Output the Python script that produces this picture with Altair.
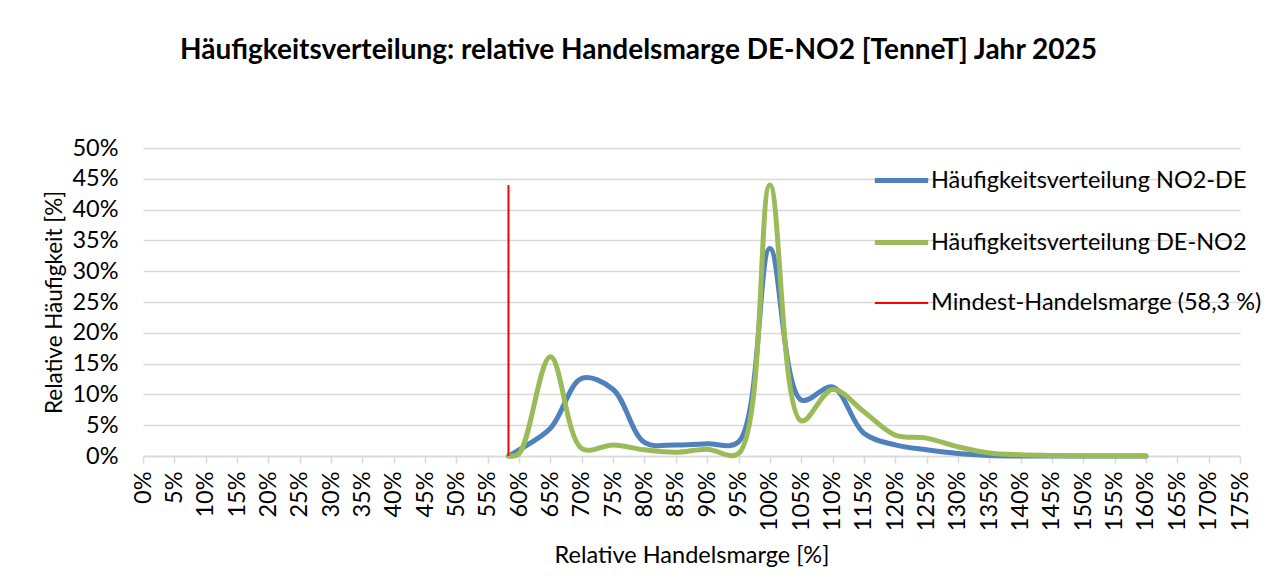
import altair as alt
import pandas as pd

# --- data ---
x_vals = [0.583, 0.60, 0.65, 0.70, 0.75, 0.80, 0.85, 0.90, 0.95, 1.00, 1.05, 1.10,
          1.15, 1.20, 1.25, 1.30, 1.35, 1.40, 1.45, 1.50, 1.55, 1.60]
no2_de = [0.000, 0.010, 0.045, 0.126, 0.108, 0.022, 0.018, 0.020, 0.023, 0.337, 0.091, 0.112,
          0.037, 0.018, 0.010, 0.004, 0.001, 0.000, 0.000, 0.000, 0.000, 0.000]
de_no2 = [0.000, 0.004, 0.161, 0.012, 0.018, 0.010, 0.006, 0.011, 0.004, 0.440, 0.057, 0.108,
          0.072, 0.034, 0.029, 0.015, 0.005, 0.002, 0.001, 0.000, 0.000, 0.000]
min_margin_x = 0.583
min_margin_top = 0.44

series_names = ["Häufigkeitsverteilung NO2-DE", "Häufigkeitsverteilung DE-NO2",
                "Mindest-Handelsmarge (58,3 %)"]
series_colors = ["#4f81bd", "#9bbb59", "#ff0000"]
series_widths = [5, 5, 2]

x_ticks = [0.00, 0.05, 0.10, 0.15, 0.20, 0.25, 0.30, 0.35, 0.40, 0.45, 0.50, 0.55, 0.60,
           0.65, 0.70, 0.75, 0.80, 0.85, 0.90, 0.95, 1.00, 1.05, 1.10, 1.15, 1.20, 1.25,
           1.30, 1.35, 1.40, 1.45, 1.50, 1.55, 1.60, 1.65, 1.70, 1.75]
y_ticks = [0.00, 0.05, 0.10, 0.15, 0.20, 0.25, 0.30, 0.35, 0.40, 0.45, 0.50]

title_text = "Häufigkeitsverteilung: relative Handelsmarge DE-NO2 [TenneT] Jahr 2025"
FONT = "Lato"
FS = 23.5

lines_df = pd.DataFrame({
    "x": x_vals * 2,
    "y": no2_de + de_no2,
    "series": [series_names[0]] * len(x_vals) + [series_names[1]] * len(x_vals),
})
rule_df = pd.DataFrame({"x": [min_margin_x], "y": [0.0], "y2": [min_margin_top],
                        "series": [series_names[2]]})

color_scale = alt.Scale(domain=series_names, range=series_colors)
width_scale = alt.Scale(type="ordinal", domain=series_names, range=series_widths)

legend = alt.Legend(title=None, orient="none", legendX=729, legendY=3,
                    symbolType="stroke", symbolSize=2850, labelFontSize=FS,
                    labelFont=FONT, labelColor="#000000", rowPadding=21,
                    labelOffset=0, labelLimit=400)

xaxis = alt.Axis(values=x_ticks, format=".0%", labelAngle=270, grid=False,
                 tickSize=7, tickColor="#d9d9d9", domainColor="#d9d9d9", tickWidth=1.5,
                 domainWidth=1.5,
                 labelPadding=8, labelFontSize=FS, labelFont=FONT,
                 labelColor="#000000", labelAlign="right", labelBaseline="middle",
                 title="Relative Handelsmarge [%]", titleFontSize=FS,
                 titleFont=FONT, titleFontWeight="normal", titleColor="#000000",
                 titlePadding=13, labelFlush=False, labelOverlap=False)
yaxis = alt.Axis(values=y_ticks, format=".0%", ticks=False, domain=False,
                 gridColor="#d9d9d9", gridWidth=1.5, labelPadding=25,
                 labelFontSize=FS, labelFont=FONT, labelColor="#000000",
                 labelOverlap=False,
                 title="Relative Häufigkeit [%]", titleFontSize=22.5,
                 titleFont=FONT, titleFontWeight="normal", titleColor="#000000",
                 titlePadding=5)
xscale = alt.Scale(domain=[0, 1.75], nice=False, zero=False)
yscale = alt.Scale(domain=[0, 0.5], nice=False)

lines = alt.Chart(lines_df).mark_line(interpolate="catmull-rom", strokeCap="round").encode(
    x=alt.X("x:Q", scale=xscale, axis=xaxis),
    y=alt.Y("y:Q", scale=yscale, axis=yaxis),
    color=alt.Color("series:N", scale=color_scale, legend=legend),
    strokeWidth=alt.StrokeWidth("series:N", scale=width_scale, legend=legend),
)
rule = alt.Chart(rule_df).mark_rule().encode(
    x=alt.X("x:Q", scale=xscale, axis=xaxis),
    y=alt.Y("y:Q", scale=yscale, axis=yaxis),
    y2="y2:Q",
    color=alt.Color("series:N", scale=color_scale, legend=legend),
    strokeWidth=alt.StrokeWidth("series:N", scale=width_scale, legend=legend),
)

chart = alt.layer(lines, rule).properties(
    width=1097, height=308,
    background="#ffffff",
    title=alt.TitleParams(title_text, font=FONT, fontSize=28, fontWeight="bold",
                          color="#000000", anchor="middle", dx=-53, offset=71),
    autosize=alt.AutoSizeParams(type="none"),
    padding={"left": 135, "top": 140, "right": 22, "bottom": 119},
).configure_view(stroke=None)

chart.save("out.html", embed_options={"renderer": "svg", "actions": False})
